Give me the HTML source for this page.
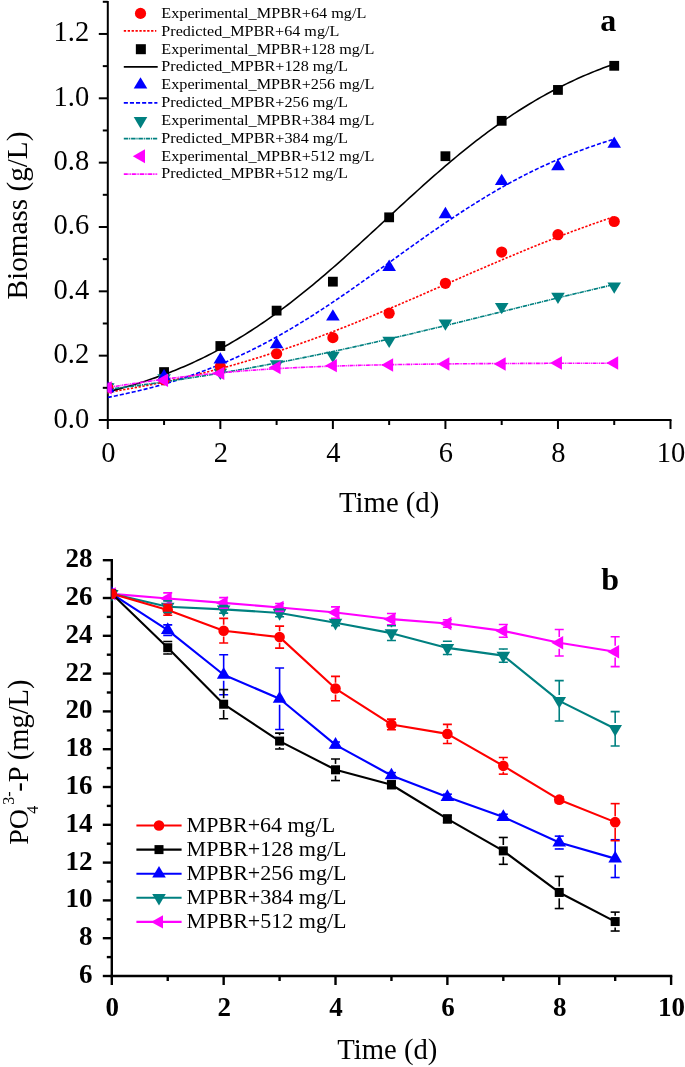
<!DOCTYPE html>
<html><head><meta charset="utf-8"><style>
html,body{margin:0;padding:0;background:#fff;width:685px;height:1067px;overflow:hidden;font-family:"Liberation Serif",serif}
</style></head><body>
<svg width="685" height="1067" viewBox="0 0 685 1067" style="position:absolute;left:0;top:0;will-change:transform">
<defs><clipPath id="ct"><rect x="107.5" y="0" width="600" height="420.0"/></clipPath><clipPath id="cb"><rect x="111.5" y="540" width="600" height="436"/></clipPath></defs>
<rect width="685" height="1067" fill="#fff"/>
<g stroke="#000" stroke-width="2" fill="none">
<line x1="107.8" y1="1" x2="107.8" y2="421.0"/>
<line x1="106.8" y1="420.0" x2="671.5" y2="420.0"/>
<line x1="98.8" y1="420.00" x2="107.8" y2="420.00"/>
<line x1="102.8" y1="387.83" x2="107.8" y2="387.83"/>
<line x1="98.8" y1="355.66" x2="107.8" y2="355.66"/>
<line x1="102.8" y1="323.49" x2="107.8" y2="323.49"/>
<line x1="98.8" y1="291.32" x2="107.8" y2="291.32"/>
<line x1="102.8" y1="259.15" x2="107.8" y2="259.15"/>
<line x1="98.8" y1="226.98" x2="107.8" y2="226.98"/>
<line x1="102.8" y1="194.81" x2="107.8" y2="194.81"/>
<line x1="98.8" y1="162.64" x2="107.8" y2="162.64"/>
<line x1="102.8" y1="130.47" x2="107.8" y2="130.47"/>
<line x1="98.8" y1="98.30" x2="107.8" y2="98.30"/>
<line x1="102.8" y1="66.13" x2="107.8" y2="66.13"/>
<line x1="98.8" y1="33.96" x2="107.8" y2="33.96"/>
<line x1="102.8" y1="1.79" x2="107.8" y2="1.79"/>
<line x1="107.80" y1="420.0" x2="107.80" y2="429.0"/>
<line x1="164.07" y1="420.0" x2="164.07" y2="425.0"/>
<line x1="220.34" y1="420.0" x2="220.34" y2="429.0"/>
<line x1="276.61" y1="420.0" x2="276.61" y2="425.0"/>
<line x1="332.88" y1="420.0" x2="332.88" y2="429.0"/>
<line x1="389.15" y1="420.0" x2="389.15" y2="425.0"/>
<line x1="445.42" y1="420.0" x2="445.42" y2="429.0"/>
<line x1="501.69" y1="420.0" x2="501.69" y2="425.0"/>
<line x1="557.96" y1="420.0" x2="557.96" y2="429.0"/>
<line x1="614.23" y1="420.0" x2="614.23" y2="425.0"/>
<line x1="670.50" y1="420.0" x2="670.50" y2="429.0"/>
</g>
<g clip-path="url(#ct)">
<polyline points="107.80,392.36 110.61,391.90 113.43,391.45 116.24,390.98 119.05,390.51 121.87,390.03 124.68,389.54 127.49,389.05 130.31,388.55 133.12,388.04 135.94,387.53 138.75,387.01 141.56,386.48 144.38,385.94 147.19,385.40 150.00,384.85 152.82,384.29 155.63,383.73 158.44,383.16 161.26,382.58 164.07,381.99 166.88,381.39 169.70,380.79 172.51,380.18 175.32,379.56 178.14,378.93 180.95,378.30 183.76,377.65 186.58,377.00 189.39,376.34 192.20,375.68 195.02,375.00 197.83,374.32 200.65,373.63 203.46,372.93 206.27,372.22 209.09,371.50 211.90,370.77 214.71,370.04 217.53,369.30 220.34,368.55 223.15,367.79 225.97,367.02 228.78,366.24 231.59,365.46 234.41,364.66 237.22,363.86 240.03,363.05 242.85,362.23 245.66,361.40 248.48,360.57 251.29,359.72 254.10,358.87 256.92,358.01 259.73,357.14 262.54,356.26 265.36,355.37 268.17,354.47 270.98,353.57 273.80,352.66 276.61,351.73 279.42,350.80 282.24,349.87 285.05,348.92 287.86,347.96 290.68,347.00 293.49,346.03 296.30,345.05 299.12,344.06 301.93,343.07 304.75,342.07 307.56,341.05 310.37,340.04 313.19,339.01 316.00,337.98 318.81,336.93 321.63,335.89 324.44,334.83 327.25,333.77 330.07,332.70 332.88,331.62 335.69,330.53 338.51,329.44 341.32,328.35 344.13,327.24 346.95,326.13 349.76,325.01 352.57,323.89 355.39,322.76 358.20,321.63 361.01,320.49 363.83,319.34 366.64,318.19 369.46,317.03 372.27,315.87 375.08,314.70 377.90,313.53 380.71,312.35 383.52,311.17 386.34,309.99 389.15,308.80 391.96,307.60 394.78,306.41 397.59,305.20 400.40,304.00 403.22,302.79 406.03,301.58 408.84,300.37 411.66,299.15 414.47,297.93 417.29,296.71 420.10,295.49 422.91,294.26 425.73,293.03 428.54,291.80 431.35,290.57 434.17,289.34 436.98,288.11 439.79,286.88 442.61,285.64 445.42,284.41 448.23,283.18 451.05,281.94 453.86,280.71 456.67,279.48 459.49,278.24 462.30,277.01 465.11,275.78 467.93,274.55 470.74,273.32 473.56,272.10 476.37,270.87 479.18,269.65 482.00,268.43 484.81,267.21 487.62,266.00 490.44,264.79 493.25,263.58 496.06,262.37 498.88,261.17 501.69,259.97 504.50,258.77 507.32,257.58 510.13,256.39 512.94,255.21 515.76,254.03 518.57,252.86 521.38,251.69 524.20,250.52 527.01,249.37 529.83,248.21 532.64,247.06 535.45,245.92 538.27,244.78 541.08,243.65 543.89,242.53 546.71,241.41 549.52,240.29 552.33,239.19 555.15,238.08 557.96,236.99 560.77,235.90 563.59,234.82 566.40,233.75 569.21,232.68 572.03,231.62 574.84,230.57 577.65,229.53 580.47,228.49 583.28,227.46 586.10,226.44 588.91,225.43 591.72,224.42 594.54,223.42 597.35,222.43 600.16,221.45 602.98,220.47 605.79,219.51 608.60,218.55 611.42,217.60 614.23,216.66" fill="none" stroke="#ff0000" stroke-width="1.6" stroke-dasharray="2.3,1.6"/>
<polyline points="107.80,391.75 110.61,391.06 113.43,390.35 116.24,389.62 119.05,388.88 121.87,388.12 124.68,387.35 127.49,386.55 130.31,385.74 133.12,384.91 135.94,384.07 138.75,383.20 141.56,382.32 144.38,381.42 147.19,380.50 150.00,379.56 152.82,378.60 155.63,377.62 158.44,376.61 161.26,375.59 164.07,374.55 166.88,373.49 169.70,372.40 172.51,371.29 175.32,370.16 178.14,369.01 180.95,367.84 183.76,366.64 186.58,365.42 189.39,364.18 192.20,362.91 195.02,361.62 197.83,360.30 200.65,358.96 203.46,357.60 206.27,356.21 209.09,354.79 211.90,353.35 214.71,351.89 217.53,350.40 220.34,348.88 223.15,347.34 225.97,345.78 228.78,344.18 231.59,342.56 234.41,340.92 237.22,339.25 240.03,337.55 242.85,335.83 245.66,334.08 248.48,332.30 251.29,330.50 254.10,328.67 256.92,326.82 259.73,324.94 262.54,323.03 265.36,321.10 268.17,319.14 270.98,317.16 273.80,315.15 276.61,313.12 279.42,311.06 282.24,308.98 285.05,306.87 287.86,304.74 290.68,302.59 293.49,300.41 296.30,298.21 299.12,295.99 301.93,293.74 304.75,291.48 307.56,289.19 310.37,286.88 313.19,284.55 316.00,282.21 318.81,279.84 321.63,277.45 324.44,275.05 327.25,272.63 330.07,270.20 332.88,267.74 335.69,265.28 338.51,262.80 341.32,260.30 344.13,257.79 346.95,255.27 349.76,252.74 352.57,250.20 355.39,247.65 358.20,245.08 361.01,242.52 363.83,239.94 366.64,237.36 369.46,234.77 372.27,232.18 375.08,229.58 377.90,226.98 380.71,224.38 383.52,221.77 386.34,219.17 389.15,216.57 391.96,213.97 394.78,211.37 397.59,208.77 400.40,206.18 403.22,203.59 406.03,201.01 408.84,198.44 411.66,195.88 414.47,193.32 417.29,190.77 420.10,188.23 422.91,185.70 425.73,183.19 428.54,180.69 431.35,178.20 434.17,175.72 436.98,173.26 439.79,170.81 442.61,168.38 445.42,165.97 448.23,163.58 451.05,161.20 453.86,158.84 456.67,156.50 459.49,154.18 462.30,151.88 465.11,149.60 467.93,147.34 470.74,145.11 473.56,142.90 476.37,140.70 479.18,138.54 482.00,136.39 484.81,134.27 487.62,132.17 490.44,130.10 493.25,128.05 496.06,126.03 498.88,124.03 501.69,122.06 504.50,120.11 507.32,118.19 510.13,116.30 512.94,114.43 515.76,112.58 518.57,110.77 521.38,108.98 524.20,107.21 527.01,105.47 529.83,103.76 532.64,102.07 535.45,100.41 538.27,98.78 541.08,97.17 543.89,95.59 546.71,94.03 549.52,92.50 552.33,90.99 555.15,89.52 557.96,88.06 560.77,86.63 563.59,85.23 566.40,83.85 569.21,82.49 572.03,81.17 574.84,79.86 577.65,78.58 580.47,77.32 583.28,76.09 586.10,74.87 588.91,73.69 591.72,72.52 594.54,71.38 597.35,70.26 600.16,69.16 602.98,68.08 605.79,67.03 608.60,65.99 611.42,64.98 614.23,63.99" fill="none" stroke="#000000" stroke-width="1.6"/>
<polyline points="107.80,397.38 110.61,396.84 113.43,396.29 116.24,395.72 119.05,395.15 121.87,394.56 124.68,393.95 127.49,393.34 130.31,392.71 133.12,392.06 135.94,391.41 138.75,390.74 141.56,390.05 144.38,389.35 147.19,388.64 150.00,387.91 152.82,387.17 155.63,386.41 158.44,385.64 161.26,384.85 164.07,384.04 166.88,383.22 169.70,382.38 172.51,381.53 175.32,380.66 178.14,379.77 180.95,378.87 183.76,377.95 186.58,377.01 189.39,376.05 192.20,375.07 195.02,374.08 197.83,373.07 200.65,372.04 203.46,370.99 206.27,369.93 209.09,368.84 211.90,367.74 214.71,366.62 217.53,365.47 220.34,364.31 223.15,363.13 225.97,361.93 228.78,360.71 231.59,359.47 234.41,358.21 237.22,356.93 240.03,355.63 242.85,354.31 245.66,352.98 248.48,351.62 251.29,350.24 254.10,348.84 256.92,347.42 259.73,345.98 262.54,344.53 265.36,343.05 268.17,341.55 270.98,340.03 273.80,338.50 276.61,336.94 279.42,335.37 282.24,333.78 285.05,332.16 287.86,330.53 290.68,328.89 293.49,327.22 296.30,325.53 299.12,323.83 301.93,322.11 304.75,320.38 307.56,318.62 310.37,316.85 313.19,315.07 316.00,313.27 318.81,311.45 321.63,309.62 324.44,307.78 327.25,305.92 330.07,304.05 332.88,302.16 335.69,300.26 338.51,298.35 341.32,296.43 344.13,294.50 346.95,292.56 349.76,290.61 352.57,288.64 355.39,286.67 358.20,284.69 361.01,282.71 363.83,280.72 366.64,278.72 369.46,276.71 372.27,274.70 375.08,272.69 377.90,270.67 380.71,268.65 383.52,266.62 386.34,264.59 389.15,262.57 391.96,260.54 394.78,258.51 397.59,256.48 400.40,254.46 403.22,252.44 406.03,250.42 408.84,248.40 411.66,246.38 414.47,244.38 417.29,242.37 420.10,240.38 422.91,238.39 425.73,236.40 428.54,234.43 431.35,232.46 434.17,230.50 436.98,228.55 439.79,226.61 442.61,224.68 445.42,222.77 448.23,220.86 451.05,218.97 453.86,217.09 456.67,215.22 459.49,213.37 462.30,211.53 465.11,209.70 467.93,207.89 470.74,206.10 473.56,204.32 476.37,202.55 479.18,200.81 482.00,199.08 484.81,197.36 487.62,195.67 490.44,193.99 493.25,192.33 496.06,190.69 498.88,189.06 501.69,187.46 504.50,185.87 507.32,184.31 510.13,182.76 512.94,181.23 515.76,179.72 518.57,178.23 521.38,176.76 524.20,175.31 527.01,173.88 529.83,172.47 532.64,171.08 535.45,169.70 538.27,168.35 541.08,167.02 543.89,165.71 546.71,164.42 549.52,163.15 552.33,161.89 555.15,160.66 557.96,159.45 560.77,158.26 563.59,157.08 566.40,155.93 569.21,154.79 572.03,153.68 574.84,152.58 577.65,151.50 580.47,150.44 583.28,149.40 586.10,148.38 588.91,147.37 591.72,146.39 594.54,145.42 597.35,144.47 600.16,143.54 602.98,142.62 605.79,141.72 608.60,140.84 611.42,139.98 614.23,139.13" fill="none" stroke="#0000ff" stroke-width="1.6" stroke-dasharray="4.1,2"/>
<polyline points="107.80,389.28 110.61,388.94 113.43,388.59 116.24,388.24 119.05,387.89 121.87,387.54 124.68,387.18 127.49,386.82 130.31,386.46 133.12,386.10 135.94,385.73 138.75,385.35 141.56,384.98 144.38,384.60 147.19,384.22 150.00,383.83 152.82,383.44 155.63,383.05 158.44,382.65 161.26,382.25 164.07,381.85 166.88,381.44 169.70,381.03 172.51,380.62 175.32,380.21 178.14,379.79 180.95,379.36 183.76,378.94 186.58,378.51 189.39,378.07 192.20,377.64 195.02,377.20 197.83,376.75 200.65,376.31 203.46,375.86 206.27,375.40 209.09,374.95 211.90,374.49 214.71,374.02 217.53,373.55 220.34,373.08 223.15,372.61 225.97,372.13 228.78,371.65 231.59,371.16 234.41,370.68 237.22,370.18 240.03,369.69 242.85,369.19 245.66,368.69 248.48,368.18 251.29,367.68 254.10,367.16 256.92,366.65 259.73,366.13 262.54,365.61 265.36,365.08 268.17,364.55 270.98,364.02 273.80,363.48 276.61,362.95 279.42,362.40 282.24,361.86 285.05,361.31 287.86,360.76 290.68,360.20 293.49,359.65 296.30,359.08 299.12,358.52 301.93,357.95 304.75,357.38 307.56,356.81 310.37,356.23 313.19,355.65 316.00,355.07 318.81,354.48 321.63,353.89 324.44,353.30 327.25,352.70 330.07,352.11 332.88,351.51 335.69,350.90 338.51,350.30 341.32,349.69 344.13,349.07 346.95,348.46 349.76,347.84 352.57,347.22 355.39,346.60 358.20,345.98 361.01,345.35 363.83,344.72 366.64,344.08 369.46,343.45 372.27,342.81 375.08,342.17 377.90,341.53 380.71,340.89 383.52,340.24 386.34,339.59 389.15,338.94 391.96,338.29 394.78,337.63 397.59,336.97 400.40,336.32 403.22,335.65 406.03,334.99 408.84,334.33 411.66,333.66 414.47,332.99 417.29,332.32 420.10,331.65 422.91,330.98 425.73,330.30 428.54,329.63 431.35,328.95 434.17,328.27 436.98,327.59 439.79,326.91 442.61,326.23 445.42,325.54 448.23,324.86 451.05,324.17 453.86,323.48 456.67,322.80 459.49,322.11 462.30,321.42 465.11,320.73 467.93,320.04 470.74,319.34 473.56,318.65 476.37,317.96 479.18,317.26 482.00,316.57 484.81,315.88 487.62,315.18 490.44,314.49 493.25,313.79 496.06,313.10 498.88,312.40 501.69,311.70 504.50,311.01 507.32,310.31 510.13,309.62 512.94,308.92 515.76,308.23 518.57,307.53 521.38,306.84 524.20,306.15 527.01,305.45 529.83,304.76 532.64,304.07 535.45,303.38 538.27,302.68 541.08,301.99 543.89,301.30 546.71,300.62 549.52,299.93 552.33,299.24 555.15,298.56 557.96,297.87 560.77,297.19 563.59,296.51 566.40,295.83 569.21,295.15 572.03,294.47 574.84,293.79 577.65,293.12 580.47,292.44 583.28,291.77 586.10,291.10 588.91,290.43 591.72,289.76 594.54,289.10 597.35,288.43 600.16,287.77 602.98,287.11 605.79,286.45 608.60,285.80 611.42,285.14 614.23,284.49" fill="none" stroke="#008080" stroke-width="1.6" stroke-dasharray="4.5,0.8,1.2,0.8"/>
<polyline points="107.80,387.57 110.61,387.12 113.43,386.67 116.24,386.23 119.05,385.78 121.87,385.34 124.68,384.91 127.49,384.48 130.31,384.05 133.12,383.62 135.94,383.20 138.75,382.78 141.56,382.37 144.38,381.96 147.19,381.55 150.00,381.15 152.82,380.76 155.63,380.36 158.44,379.98 161.26,379.60 164.07,379.22 166.88,378.85 169.70,378.48 172.51,378.12 175.32,377.77 178.14,377.42 180.95,377.08 183.76,376.74 186.58,376.41 189.39,376.08 192.20,375.76 195.02,375.44 197.83,375.13 200.65,374.83 203.46,374.53 206.27,374.24 209.09,373.95 211.90,373.67 214.71,373.39 217.53,373.12 220.34,372.86 223.15,372.60 225.97,372.34 228.78,372.10 231.59,371.85 234.41,371.61 237.22,371.38 240.03,371.16 242.85,370.93 245.66,370.72 248.48,370.51 251.29,370.30 254.10,370.10 256.92,369.90 259.73,369.71 262.54,369.52 265.36,369.34 268.17,369.16 270.98,368.99 273.80,368.82 276.61,368.65 279.42,368.49 282.24,368.33 285.05,368.18 287.86,368.03 290.68,367.89 293.49,367.75 296.30,367.61 299.12,367.47 301.93,367.34 304.75,367.22 307.56,367.09 310.37,366.98 313.19,366.86 316.00,366.75 318.81,366.64 321.63,366.53 324.44,366.42 327.25,366.32 330.07,366.22 332.88,366.13 335.69,366.04 338.51,365.95 341.32,365.86 344.13,365.77 346.95,365.69 349.76,365.61 352.57,365.53 355.39,365.46 358.20,365.38 361.01,365.31 363.83,365.24 366.64,365.18 369.46,365.11 372.27,365.05 375.08,364.99 377.90,364.93 380.71,364.87 383.52,364.81 386.34,364.76 389.15,364.70 391.96,364.65 394.78,364.60 397.59,364.56 400.40,364.51 403.22,364.46 406.03,364.42 408.84,364.38 411.66,364.33 414.47,364.29 417.29,364.26 420.10,364.22 422.91,364.18 425.73,364.15 428.54,364.11 431.35,364.08 434.17,364.05 436.98,364.01 439.79,363.98 442.61,363.95 445.42,363.93 448.23,363.90 451.05,363.87 453.86,363.85 456.67,363.82 459.49,363.80 462.30,363.77 465.11,363.75 467.93,363.73 470.74,363.71 473.56,363.68 476.37,363.66 479.18,363.65 482.00,363.63 484.81,363.61 487.62,363.59 490.44,363.57 493.25,363.56 496.06,363.54 498.88,363.52 501.69,363.51 504.50,363.49 507.32,363.48 510.13,363.47 512.94,363.45 515.76,363.44 518.57,363.43 521.38,363.42 524.20,363.40 527.01,363.39 529.83,363.38 532.64,363.37 535.45,363.36 538.27,363.35 541.08,363.34 543.89,363.33 546.71,363.32 549.52,363.31 552.33,363.30 555.15,363.30 557.96,363.29 560.77,363.28 563.59,363.27 566.40,363.26 569.21,363.26 572.03,363.25 574.84,363.24 577.65,363.24 580.47,363.23 583.28,363.23 586.10,363.22 588.91,363.21 591.72,363.21 594.54,363.20 597.35,363.20 600.16,363.19 602.98,363.19 605.79,363.18 608.60,363.18 611.42,363.17 614.23,363.17" fill="none" stroke="#ff00ff" stroke-width="1.6" stroke-dasharray="4,0.7,1,0.7,1,0.7"/>
<rect x="102.90" y="382.93" width="9.80" height="9.80" fill="#000000"/>
<rect x="159.17" y="367.17" width="9.80" height="9.80" fill="#000000"/>
<rect x="215.44" y="341.11" width="9.80" height="9.80" fill="#000000"/>
<rect x="271.71" y="305.72" width="9.80" height="9.80" fill="#000000"/>
<rect x="327.98" y="276.77" width="9.80" height="9.80" fill="#000000"/>
<rect x="384.25" y="212.43" width="9.80" height="9.80" fill="#000000"/>
<rect x="440.52" y="151.31" width="9.80" height="9.80" fill="#000000"/>
<rect x="496.79" y="115.92" width="9.80" height="9.80" fill="#000000"/>
<rect x="553.06" y="85.04" width="9.80" height="9.80" fill="#000000"/>
<rect x="609.33" y="60.91" width="9.80" height="9.80" fill="#000000"/>
<polygon points="107.80,394.45 114.60,383.15 101.00,383.15" fill="#008080"/>
<polygon points="164.07,385.44 170.87,374.14 157.27,374.14" fill="#008080"/>
<polygon points="220.34,379.97 227.14,368.67 213.54,368.67" fill="#008080"/>
<polygon points="276.61,371.44 283.41,360.14 269.81,360.14" fill="#008080"/>
<polygon points="332.88,363.02 339.68,351.72 326.08,351.72" fill="#008080"/>
<polygon points="389.15,348.12 395.95,336.82 382.35,336.82" fill="#008080"/>
<polygon points="445.42,330.75 452.22,319.45 438.62,319.45" fill="#008080"/>
<polygon points="501.69,314.34 508.49,303.04 494.89,303.04" fill="#008080"/>
<polygon points="557.96,304.05 564.76,292.75 551.16,292.75" fill="#008080"/>
<polygon points="614.23,293.75 621.03,282.45 607.43,282.45" fill="#008080"/>
<circle cx="107.80" cy="387.83" r="5.60" fill="#ff0000"/>
<circle cx="164.07" cy="379.79" r="5.60" fill="#ff0000"/>
<circle cx="220.34" cy="366.60" r="5.60" fill="#ff0000"/>
<circle cx="276.61" cy="353.73" r="5.60" fill="#ff0000"/>
<circle cx="332.88" cy="337.64" r="5.60" fill="#ff0000"/>
<circle cx="389.15" cy="313.20" r="5.60" fill="#ff0000"/>
<circle cx="445.42" cy="283.28" r="5.60" fill="#ff0000"/>
<circle cx="501.69" cy="252.07" r="5.60" fill="#ff0000"/>
<circle cx="557.96" cy="234.70" r="5.60" fill="#ff0000"/>
<circle cx="614.23" cy="221.51" r="5.60" fill="#ff0000"/>
<polygon points="107.80,381.02 114.60,392.32 101.00,392.32" fill="#0000ff"/>
<polygon points="164.07,368.99 170.87,380.29 157.27,380.29" fill="#0000ff"/>
<polygon points="220.34,352.26 227.14,363.56 213.54,363.56" fill="#0000ff"/>
<polygon points="276.61,336.98 283.41,348.28 269.81,348.28" fill="#0000ff"/>
<polygon points="332.88,309.15 339.68,320.45 326.08,320.45" fill="#0000ff"/>
<polygon points="389.15,259.61 395.95,270.91 382.35,270.91" fill="#0000ff"/>
<polygon points="445.42,206.85 452.22,218.15 438.62,218.15" fill="#0000ff"/>
<polygon points="501.69,173.72 508.49,185.02 494.89,185.02" fill="#0000ff"/>
<polygon points="557.96,158.92 564.76,170.22 551.16,170.22" fill="#0000ff"/>
<polygon points="614.23,136.40 621.03,147.70 607.43,147.70" fill="#0000ff"/>
<polygon points="99.87,387.83 111.77,381.13 111.77,394.53" fill="#ff00ff"/>
<polygon points="156.14,380.24 168.04,373.54 168.04,386.94" fill="#ff00ff"/>
<polygon points="212.41,373.35 224.31,366.65 224.31,380.05" fill="#ff00ff"/>
<polygon points="268.68,367.56 280.58,360.86 280.58,374.26" fill="#ff00ff"/>
<polygon points="324.95,365.63 336.85,358.93 336.85,372.33" fill="#ff00ff"/>
<polygon points="381.22,364.99 393.12,358.29 393.12,371.69" fill="#ff00ff"/>
<polygon points="437.49,364.02 449.39,357.32 449.39,370.72" fill="#ff00ff"/>
<polygon points="493.76,364.02 505.66,357.32 505.66,370.72" fill="#ff00ff"/>
<polygon points="550.03,363.06 561.93,356.36 561.93,369.76" fill="#ff00ff"/>
<polygon points="606.30,363.06 618.20,356.36 618.20,369.76" fill="#ff00ff"/>
</g>
<g font-family='"Liberation Serif", serif' font-size="28.5" fill="#000">
<text x="89.2" y="427.50" text-anchor="end">0.0</text>
<text x="89.2" y="363.16" text-anchor="end">0.2</text>
<text x="89.2" y="298.82" text-anchor="end">0.4</text>
<text x="89.2" y="234.48" text-anchor="end">0.6</text>
<text x="89.2" y="170.14" text-anchor="end">0.8</text>
<text x="89.2" y="105.80" text-anchor="end">1.0</text>
<text x="89.2" y="41.46" text-anchor="end">1.2</text>
<text x="108.30" y="462.3" text-anchor="middle">0</text>
<text x="220.84" y="462.3" text-anchor="middle">2</text>
<text x="333.38" y="462.3" text-anchor="middle">4</text>
<text x="445.92" y="462.3" text-anchor="middle">6</text>
<text x="558.46" y="462.3" text-anchor="middle">8</text>
<text x="671.00" y="462.3" text-anchor="middle">10</text>
</g>
<text x="389.2" y="512" text-anchor="middle" font-family='"Liberation Serif", serif' font-size="28.7">Time (d)</text>
<text transform="translate(27.2,299.4) rotate(-90)" font-family='"Liberation Serif", serif' font-size="29.6" textLength="167.8" lengthAdjust="spacingAndGlyphs">Biomass (g/L)</text>
<text x="600.3" y="30.8" font-family='"Liberation Serif", serif' font-weight="bold" font-size="32">a</text>
<text x="161.3" y="18.00" font-family='"Liberation Serif", serif' font-size="15" textLength="205" lengthAdjust="spacingAndGlyphs">Experimental_MPBR+64 mg/L</text>
<circle cx="140.50" cy="13.40" r="5.60" fill="#ff0000"/>
<text x="161.3" y="35.82" font-family='"Liberation Serif", serif' font-size="15" textLength="178" lengthAdjust="spacingAndGlyphs">Predicted_MPBR+64 mg/L</text>
<line x1="123.8" y1="30.90" x2="156.3" y2="30.90" stroke="#ff0000" stroke-width="1.8" stroke-dasharray="2.3,1.6"/>
<text x="161.3" y="53.64" font-family='"Liberation Serif", serif' font-size="15" textLength="213" lengthAdjust="spacingAndGlyphs">Experimental_MPBR+128 mg/L</text>
<rect x="135.85" y="44.20" width="10.00" height="10.00" fill="#000000"/>
<text x="161.3" y="71.46" font-family='"Liberation Serif", serif' font-size="15" textLength="186.5" lengthAdjust="spacingAndGlyphs">Predicted_MPBR+128 mg/L</text>
<line x1="123.8" y1="66.80" x2="157.7" y2="66.80" stroke="#000000" stroke-width="1.8"/>
<text x="161.3" y="89.28" font-family='"Liberation Serif", serif' font-size="15" textLength="213" lengthAdjust="spacingAndGlyphs">Experimental_MPBR+256 mg/L</text>
<polygon points="140.50,77.30 147.30,88.60 133.70,88.60" fill="#0000ff"/>
<text x="161.3" y="107.10" font-family='"Liberation Serif", serif' font-size="15" textLength="186.5" lengthAdjust="spacingAndGlyphs">Predicted_MPBR+256 mg/L</text>
<line x1="123.8" y1="102.80" x2="157.4" y2="102.80" stroke="#0000ff" stroke-width="1.8" stroke-dasharray="4.1,2"/>
<text x="161.3" y="124.92" font-family='"Liberation Serif", serif' font-size="15" textLength="213" lengthAdjust="spacingAndGlyphs">Experimental_MPBR+384 mg/L</text>
<polygon points="140.50,128.40 147.30,117.10 133.70,117.10" fill="#008080"/>
<text x="161.3" y="142.74" font-family='"Liberation Serif", serif' font-size="15" textLength="186.5" lengthAdjust="spacingAndGlyphs">Predicted_MPBR+384 mg/L</text>
<line x1="123.8" y1="138.60" x2="157.2" y2="138.60" stroke="#008080" stroke-width="1.8" stroke-dasharray="4.5,0.8,1.2,0.8"/>
<text x="161.3" y="160.56" font-family='"Liberation Serif", serif' font-size="15" textLength="213" lengthAdjust="spacingAndGlyphs">Experimental_MPBR+512 mg/L</text>
<polygon points="132.80,156.25 145.00,149.20 145.00,163.30" fill="#ff00ff"/>
<text x="161.3" y="178.38" font-family='"Liberation Serif", serif' font-size="15" textLength="186.5" lengthAdjust="spacingAndGlyphs">Predicted_MPBR+512 mg/L</text>
<line x1="123.8" y1="174.10" x2="157.2" y2="174.10" stroke="#ff00ff" stroke-width="1.8" stroke-dasharray="4,0.7,1,0.7,1,0.7"/>
<g stroke="#000" stroke-width="2.4" fill="none">
<line x1="111.8" y1="559.00" x2="111.8" y2="977.2"/>
<line x1="110.6" y1="976.0" x2="672.30" y2="976.0"/>
<line x1="102.8" y1="976.00" x2="111.8" y2="976.00"/>
<line x1="106.8" y1="957.10" x2="111.8" y2="957.10"/>
<line x1="102.8" y1="938.20" x2="111.8" y2="938.20"/>
<line x1="106.8" y1="919.30" x2="111.8" y2="919.30"/>
<line x1="102.8" y1="900.40" x2="111.8" y2="900.40"/>
<line x1="106.8" y1="881.50" x2="111.8" y2="881.50"/>
<line x1="102.8" y1="862.60" x2="111.8" y2="862.60"/>
<line x1="106.8" y1="843.70" x2="111.8" y2="843.70"/>
<line x1="102.8" y1="824.80" x2="111.8" y2="824.80"/>
<line x1="106.8" y1="805.90" x2="111.8" y2="805.90"/>
<line x1="102.8" y1="787.00" x2="111.8" y2="787.00"/>
<line x1="106.8" y1="768.10" x2="111.8" y2="768.10"/>
<line x1="102.8" y1="749.20" x2="111.8" y2="749.20"/>
<line x1="106.8" y1="730.30" x2="111.8" y2="730.30"/>
<line x1="102.8" y1="711.40" x2="111.8" y2="711.40"/>
<line x1="106.8" y1="692.50" x2="111.8" y2="692.50"/>
<line x1="102.8" y1="673.60" x2="111.8" y2="673.60"/>
<line x1="106.8" y1="654.70" x2="111.8" y2="654.70"/>
<line x1="102.8" y1="635.80" x2="111.8" y2="635.80"/>
<line x1="106.8" y1="616.90" x2="111.8" y2="616.90"/>
<line x1="102.8" y1="598.00" x2="111.8" y2="598.00"/>
<line x1="106.8" y1="579.10" x2="111.8" y2="579.10"/>
<line x1="102.8" y1="560.20" x2="111.8" y2="560.20"/>
<line x1="111.80" y1="976.0" x2="111.80" y2="985.0"/>
<line x1="167.73" y1="976.0" x2="167.73" y2="981.0"/>
<line x1="223.66" y1="976.0" x2="223.66" y2="985.0"/>
<line x1="279.59" y1="976.0" x2="279.59" y2="981.0"/>
<line x1="335.52" y1="976.0" x2="335.52" y2="985.0"/>
<line x1="391.45" y1="976.0" x2="391.45" y2="981.0"/>
<line x1="447.38" y1="976.0" x2="447.38" y2="985.0"/>
<line x1="503.31" y1="976.0" x2="503.31" y2="981.0"/>
<line x1="559.24" y1="976.0" x2="559.24" y2="985.0"/>
<line x1="615.17" y1="976.0" x2="615.17" y2="981.0"/>
<line x1="671.10" y1="976.0" x2="671.10" y2="985.0"/>
</g>
<g clip-path="url(#cb)">
<polyline points="111.80,593.84 167.73,598.57 223.66,602.91 279.59,607.45 335.52,612.55 391.45,619.17 447.38,623.52 503.31,630.89 559.24,642.79 615.17,651.68" fill="none" stroke="#ff00ff" stroke-width="2.1" stroke-linejoin="round"/>
<polygon points="103.87,593.84 115.77,587.14 115.77,600.54" fill="#ff00ff"/>
<polygon points="159.80,598.57 171.70,591.87 171.70,605.27" fill="#ff00ff"/>
<polygon points="215.73,602.91 227.63,596.21 227.63,609.61" fill="#ff00ff"/>
<polygon points="271.66,607.45 283.56,600.75 283.56,614.15" fill="#ff00ff"/>
<polygon points="327.59,612.55 339.49,605.85 339.49,619.25" fill="#ff00ff"/>
<polygon points="383.52,619.17 395.42,612.47 395.42,625.87" fill="#ff00ff"/>
<polygon points="439.45,623.52 451.35,616.82 451.35,630.22" fill="#ff00ff"/>
<polygon points="495.38,630.89 507.28,624.19 507.28,637.59" fill="#ff00ff"/>
<polygon points="551.31,642.79 563.21,636.09 563.21,649.49" fill="#ff00ff"/>
<polygon points="607.24,651.68 619.14,644.98 619.14,658.38" fill="#ff00ff"/>
<polyline points="111.80,593.84 167.73,606.69 223.66,609.34 279.59,612.93 335.52,622.76 391.45,633.15 447.38,647.90 503.31,655.64 559.24,700.82 615.17,728.79" fill="none" stroke="#008080" stroke-width="2.1" stroke-linejoin="round"/>
<polygon points="111.80,601.64 118.60,589.94 105.00,589.94" fill="#008080"/>
<polygon points="167.73,614.49 174.53,602.79 160.93,602.79" fill="#008080"/>
<polygon points="223.66,617.14 230.46,605.44 216.86,605.44" fill="#008080"/>
<polygon points="279.59,620.73 286.39,609.03 272.79,609.03" fill="#008080"/>
<polygon points="335.52,630.56 342.32,618.86 328.72,618.86" fill="#008080"/>
<polygon points="391.45,640.95 398.25,629.25 384.65,629.25" fill="#008080"/>
<polygon points="447.38,655.70 454.18,644.00 440.58,644.00" fill="#008080"/>
<polygon points="503.31,663.44 510.11,651.75 496.51,651.75" fill="#008080"/>
<polygon points="559.24,708.62 566.04,696.92 552.44,696.92" fill="#008080"/>
<polygon points="615.17,736.59 621.97,724.89 608.37,724.89" fill="#008080"/>
<polyline points="111.80,593.84 167.73,630.13 223.66,674.73 279.59,698.74 335.52,744.85 391.45,775.47 447.38,797.02 503.31,817.05 559.24,842.57 615.17,858.63" fill="none" stroke="#0000ff" stroke-width="2.1" stroke-linejoin="round"/>
<polygon points="111.80,586.04 118.60,597.74 105.00,597.74" fill="#0000ff"/>
<polygon points="167.73,622.33 174.53,634.03 160.93,634.03" fill="#0000ff"/>
<polygon points="223.66,666.93 230.46,678.63 216.86,678.63" fill="#0000ff"/>
<polygon points="279.59,690.94 286.39,702.64 272.79,702.64" fill="#0000ff"/>
<polygon points="335.52,737.05 342.32,748.75 328.72,748.75" fill="#0000ff"/>
<polygon points="391.45,767.67 398.25,779.37 384.65,779.37" fill="#0000ff"/>
<polygon points="447.38,789.22 454.18,800.92 440.58,800.92" fill="#0000ff"/>
<polygon points="503.31,809.25 510.11,820.95 496.51,820.95" fill="#0000ff"/>
<polygon points="559.24,834.77 566.04,846.47 552.44,846.47" fill="#0000ff"/>
<polygon points="615.17,850.83 621.97,862.53 608.37,862.53" fill="#0000ff"/>
<polyline points="111.80,593.84 167.73,647.71 223.66,704.22 279.59,741.07 335.52,769.80 391.45,784.73 447.38,818.94 503.31,850.88 559.24,892.46 615.17,921.57" fill="none" stroke="#000000" stroke-width="2.1" stroke-linejoin="round"/>
<rect x="107.30" y="589.34" width="9.00" height="9.00" fill="#000000"/>
<rect x="163.23" y="643.21" width="9.00" height="9.00" fill="#000000"/>
<rect x="219.16" y="699.72" width="9.00" height="9.00" fill="#000000"/>
<rect x="275.09" y="736.57" width="9.00" height="9.00" fill="#000000"/>
<rect x="331.02" y="765.30" width="9.00" height="9.00" fill="#000000"/>
<rect x="386.95" y="780.23" width="9.00" height="9.00" fill="#000000"/>
<rect x="442.88" y="814.44" width="9.00" height="9.00" fill="#000000"/>
<rect x="498.81" y="846.38" width="9.00" height="9.00" fill="#000000"/>
<rect x="554.74" y="887.96" width="9.00" height="9.00" fill="#000000"/>
<rect x="610.67" y="917.07" width="9.00" height="9.00" fill="#000000"/>
<polyline points="111.80,593.84 167.73,609.91 223.66,630.70 279.59,637.12 335.52,688.53 391.45,724.44 447.38,733.89 503.31,765.83 559.24,799.66 615.17,822.15" fill="none" stroke="#ff0000" stroke-width="2.1" stroke-linejoin="round"/>
<circle cx="111.80" cy="593.84" r="5.3" fill="#ff0000"/>
<circle cx="167.73" cy="609.91" r="5.3" fill="#ff0000"/>
<circle cx="223.66" cy="630.70" r="5.3" fill="#ff0000"/>
<circle cx="279.59" cy="637.12" r="5.3" fill="#ff0000"/>
<circle cx="335.52" cy="688.53" r="5.3" fill="#ff0000"/>
<circle cx="391.45" cy="724.44" r="5.3" fill="#ff0000"/>
<circle cx="447.38" cy="733.89" r="5.3" fill="#ff0000"/>
<circle cx="503.31" cy="765.83" r="5.3" fill="#ff0000"/>
<circle cx="559.24" cy="799.66" r="5.3" fill="#ff0000"/>
<circle cx="615.17" cy="822.15" r="5.3" fill="#ff0000"/>
<g stroke="#ff00ff" stroke-width="1.6" fill="none"><line x1="163.23" y1="592.90" x2="172.23" y2="592.90"/><line x1="163.23" y1="604.24" x2="172.23" y2="604.24"/><line x1="219.16" y1="597.62" x2="228.16" y2="597.62"/><line x1="219.16" y1="608.21" x2="228.16" y2="608.21"/><line x1="275.09" y1="603.48" x2="284.09" y2="603.48"/><line x1="275.09" y1="611.42" x2="284.09" y2="611.42"/><line x1="331.02" y1="606.88" x2="340.02" y2="606.88"/><line x1="331.02" y1="618.22" x2="340.02" y2="618.22"/><line x1="386.95" y1="613.50" x2="395.95" y2="613.50"/><line x1="386.95" y1="624.84" x2="395.95" y2="624.84"/><line x1="442.88" y1="619.74" x2="451.88" y2="619.74"/><line x1="442.88" y1="627.30" x2="451.88" y2="627.30"/><line x1="503.31" y1="624.46" x2="503.31" y2="624.99"/><line x1="503.31" y1="636.79" x2="503.31" y2="637.31"/><line x1="498.81" y1="624.46" x2="507.81" y2="624.46"/><line x1="498.81" y1="637.31" x2="507.81" y2="637.31"/><line x1="559.24" y1="629.56" x2="559.24" y2="636.89"/><line x1="559.24" y1="648.69" x2="559.24" y2="656.02"/><line x1="554.74" y1="629.56" x2="563.74" y2="629.56"/><line x1="554.74" y1="656.02" x2="563.74" y2="656.02"/><line x1="615.17" y1="636.75" x2="615.17" y2="645.78"/><line x1="615.17" y1="657.58" x2="615.17" y2="666.61"/><line x1="610.67" y1="636.75" x2="619.67" y2="636.75"/><line x1="610.67" y1="666.61" x2="619.67" y2="666.61"/></g>
<g stroke="#008080" stroke-width="1.6" fill="none"><line x1="163.23" y1="600.84" x2="172.23" y2="600.84"/><line x1="163.23" y1="612.55" x2="172.23" y2="612.55"/><line x1="219.16" y1="605.56" x2="228.16" y2="605.56"/><line x1="219.16" y1="613.12" x2="228.16" y2="613.12"/><line x1="275.09" y1="609.15" x2="284.09" y2="609.15"/><line x1="275.09" y1="616.71" x2="284.09" y2="616.71"/><line x1="331.02" y1="619.92" x2="340.02" y2="619.92"/><line x1="331.02" y1="625.59" x2="340.02" y2="625.59"/><line x1="391.45" y1="625.78" x2="391.45" y2="627.25"/><line x1="391.45" y1="639.05" x2="391.45" y2="640.53"/><line x1="386.95" y1="625.78" x2="395.95" y2="625.78"/><line x1="386.95" y1="640.53" x2="395.95" y2="640.53"/><line x1="447.38" y1="641.28" x2="447.38" y2="642.00"/><line x1="447.38" y1="653.80" x2="447.38" y2="654.51"/><line x1="442.88" y1="641.28" x2="451.88" y2="641.28"/><line x1="442.88" y1="654.51" x2="451.88" y2="654.51"/><line x1="503.31" y1="649.03" x2="503.31" y2="649.75"/><line x1="503.31" y1="661.54" x2="503.31" y2="662.26"/><line x1="498.81" y1="649.03" x2="507.81" y2="649.03"/><line x1="498.81" y1="662.26" x2="507.81" y2="662.26"/><line x1="559.24" y1="680.59" x2="559.24" y2="694.92"/><line x1="559.24" y1="706.72" x2="559.24" y2="721.04"/><line x1="554.74" y1="680.59" x2="563.74" y2="680.59"/><line x1="554.74" y1="721.04" x2="563.74" y2="721.04"/><line x1="615.17" y1="711.59" x2="615.17" y2="722.89"/><line x1="615.17" y1="734.69" x2="615.17" y2="745.99"/><line x1="610.67" y1="711.59" x2="619.67" y2="711.59"/><line x1="610.67" y1="745.99" x2="619.67" y2="745.99"/></g>
<g stroke="#0000ff" stroke-width="1.6" fill="none"><line x1="163.23" y1="624.84" x2="172.23" y2="624.84"/><line x1="163.23" y1="635.42" x2="172.23" y2="635.42"/><line x1="223.66" y1="654.70" x2="223.66" y2="668.83"/><line x1="223.66" y1="680.63" x2="223.66" y2="694.77"/><line x1="219.16" y1="654.70" x2="228.16" y2="654.70"/><line x1="219.16" y1="694.77" x2="228.16" y2="694.77"/><line x1="279.59" y1="667.93" x2="279.59" y2="692.84"/><line x1="279.59" y1="704.64" x2="279.59" y2="729.54"/><line x1="275.09" y1="667.93" x2="284.09" y2="667.93"/><line x1="275.09" y1="729.54" x2="284.09" y2="729.54"/><line x1="331.02" y1="742.02" x2="340.02" y2="742.02"/><line x1="331.02" y1="747.69" x2="340.02" y2="747.69"/><line x1="386.95" y1="772.64" x2="395.95" y2="772.64"/><line x1="386.95" y1="778.31" x2="395.95" y2="778.31"/><line x1="442.88" y1="794.18" x2="451.88" y2="794.18"/><line x1="442.88" y1="799.85" x2="451.88" y2="799.85"/><line x1="498.81" y1="814.22" x2="507.81" y2="814.22"/><line x1="498.81" y1="819.89" x2="507.81" y2="819.89"/><line x1="559.24" y1="836.14" x2="559.24" y2="836.67"/><line x1="559.24" y1="848.47" x2="559.24" y2="848.99"/><line x1="554.74" y1="836.14" x2="563.74" y2="836.14"/><line x1="554.74" y1="848.99" x2="563.74" y2="848.99"/><line x1="615.17" y1="839.73" x2="615.17" y2="852.73"/><line x1="615.17" y1="864.53" x2="615.17" y2="877.53"/><line x1="610.67" y1="839.73" x2="619.67" y2="839.73"/><line x1="610.67" y1="877.53" x2="619.67" y2="877.53"/></g>
<g stroke="#000000" stroke-width="1.6" fill="none"><line x1="167.73" y1="641.47" x2="167.73" y2="641.81"/><line x1="167.73" y1="653.61" x2="167.73" y2="653.94"/><line x1="163.23" y1="641.47" x2="172.23" y2="641.47"/><line x1="163.23" y1="653.94" x2="172.23" y2="653.94"/><line x1="223.66" y1="689.66" x2="223.66" y2="698.32"/><line x1="223.66" y1="710.12" x2="223.66" y2="718.77"/><line x1="219.16" y1="689.66" x2="228.16" y2="689.66"/><line x1="219.16" y1="718.77" x2="228.16" y2="718.77"/><line x1="279.59" y1="733.13" x2="279.59" y2="735.17"/><line x1="279.59" y1="746.97" x2="279.59" y2="749.01"/><line x1="275.09" y1="733.13" x2="284.09" y2="733.13"/><line x1="275.09" y1="749.01" x2="284.09" y2="749.01"/><line x1="335.52" y1="759.03" x2="335.52" y2="763.90"/><line x1="335.52" y1="775.70" x2="335.52" y2="780.57"/><line x1="331.02" y1="759.03" x2="340.02" y2="759.03"/><line x1="331.02" y1="780.57" x2="340.02" y2="780.57"/><line x1="386.95" y1="780.95" x2="395.95" y2="780.95"/><line x1="386.95" y1="788.51" x2="395.95" y2="788.51"/><line x1="442.88" y1="815.16" x2="451.88" y2="815.16"/><line x1="442.88" y1="822.72" x2="451.88" y2="822.72"/><line x1="503.31" y1="837.46" x2="503.31" y2="844.98"/><line x1="503.31" y1="856.78" x2="503.31" y2="864.30"/><line x1="498.81" y1="837.46" x2="507.81" y2="837.46"/><line x1="498.81" y1="864.30" x2="507.81" y2="864.30"/><line x1="559.24" y1="876.40" x2="559.24" y2="886.56"/><line x1="559.24" y1="898.36" x2="559.24" y2="908.53"/><line x1="554.74" y1="876.40" x2="563.74" y2="876.40"/><line x1="554.74" y1="908.53" x2="563.74" y2="908.53"/><line x1="615.17" y1="912.12" x2="615.17" y2="915.67"/><line x1="615.17" y1="927.47" x2="615.17" y2="931.02"/><line x1="610.67" y1="912.12" x2="619.67" y2="912.12"/><line x1="610.67" y1="931.02" x2="619.67" y2="931.02"/></g>
<g stroke="#ff0000" stroke-width="1.6" fill="none"><line x1="163.23" y1="604.62" x2="172.23" y2="604.62"/><line x1="163.23" y1="615.20" x2="172.23" y2="615.20"/><line x1="223.66" y1="618.41" x2="223.66" y2="624.80"/><line x1="223.66" y1="636.60" x2="223.66" y2="642.98"/><line x1="219.16" y1="618.41" x2="228.16" y2="618.41"/><line x1="219.16" y1="642.98" x2="228.16" y2="642.98"/><line x1="279.59" y1="626.16" x2="279.59" y2="631.22"/><line x1="279.59" y1="643.02" x2="279.59" y2="648.09"/><line x1="275.09" y1="626.16" x2="284.09" y2="626.16"/><line x1="275.09" y1="648.09" x2="284.09" y2="648.09"/><line x1="335.52" y1="676.34" x2="335.52" y2="682.63"/><line x1="335.52" y1="694.43" x2="335.52" y2="700.72"/><line x1="331.02" y1="676.34" x2="340.02" y2="676.34"/><line x1="331.02" y1="700.72" x2="340.02" y2="700.72"/><line x1="386.95" y1="719.15" x2="395.95" y2="719.15"/><line x1="386.95" y1="729.73" x2="395.95" y2="729.73"/><line x1="447.38" y1="724.35" x2="447.38" y2="727.99"/><line x1="447.38" y1="739.79" x2="447.38" y2="743.44"/><line x1="442.88" y1="724.35" x2="451.88" y2="724.35"/><line x1="442.88" y1="743.44" x2="451.88" y2="743.44"/><line x1="503.31" y1="757.52" x2="503.31" y2="759.93"/><line x1="503.31" y1="771.73" x2="503.31" y2="774.15"/><line x1="498.81" y1="757.52" x2="507.81" y2="757.52"/><line x1="498.81" y1="774.15" x2="507.81" y2="774.15"/><line x1="554.74" y1="796.83" x2="563.74" y2="796.83"/><line x1="554.74" y1="802.50" x2="563.74" y2="802.50"/><line x1="615.17" y1="803.63" x2="615.17" y2="816.25"/><line x1="615.17" y1="828.05" x2="615.17" y2="840.68"/><line x1="610.67" y1="803.63" x2="619.67" y2="803.63"/><line x1="610.67" y1="840.68" x2="619.67" y2="840.68"/></g>
</g>
<g font-family='"Liberation Serif", serif' font-size="27" font-weight="bold" fill="#000">
<text x="92.5" y="983.00" text-anchor="end">6</text>
<text x="92.5" y="945.20" text-anchor="end">8</text>
<text x="92.5" y="907.40" text-anchor="end">10</text>
<text x="92.5" y="869.60" text-anchor="end">12</text>
<text x="92.5" y="831.80" text-anchor="end">14</text>
<text x="92.5" y="794.00" text-anchor="end">16</text>
<text x="92.5" y="756.20" text-anchor="end">18</text>
<text x="92.5" y="718.40" text-anchor="end">20</text>
<text x="92.5" y="680.60" text-anchor="end">22</text>
<text x="92.5" y="642.80" text-anchor="end">24</text>
<text x="92.5" y="605.00" text-anchor="end">26</text>
<text x="92.5" y="567.20" text-anchor="end">28</text>
<text x="112.30" y="1016" text-anchor="middle">0</text>
<text x="224.16" y="1016" text-anchor="middle">2</text>
<text x="336.02" y="1016" text-anchor="middle">4</text>
<text x="447.88" y="1016" text-anchor="middle">6</text>
<text x="559.74" y="1016" text-anchor="middle">8</text>
<text x="671.60" y="1016" text-anchor="middle">10</text>
</g>
<text x="387.3" y="1058.6" text-anchor="middle" font-family='"Liberation Serif", serif' font-size="28.7">Time (d)</text>
<text transform="translate(27.8,844.8) rotate(-90)" font-family='"Liberation Serif", serif' font-size="28">PO<tspan font-size="16" dx="-4.7" dy="10">4</tspan><tspan font-size="16" dx="1.0" dy="-23.9">3-</tspan><tspan dx="-0.3" dy="13.9" font-size="28.5">-P (mg/L)</tspan></text>
<text x="601.3" y="589.8" font-family='"Liberation Serif", serif' font-weight="bold" font-size="32">b</text>
<line x1="136.4" y1="825.50" x2="181.6" y2="825.50" stroke="#ff0000" stroke-width="2.1"/>
<circle cx="159.00" cy="825.50" r="5.3" fill="#ff0000"/>
<text x="186.6" y="831.90" font-family='"Liberation Serif", serif' font-size="20" textLength="148.5" lengthAdjust="spacingAndGlyphs">MPBR+64 mg/L</text>
<line x1="136.4" y1="849.60" x2="181.6" y2="849.60" stroke="#000000" stroke-width="2.1"/>
<rect x="154.50" y="845.10" width="9.00" height="9.00" fill="#000000"/>
<text x="186.6" y="856.00" font-family='"Liberation Serif", serif' font-size="20" textLength="160" lengthAdjust="spacingAndGlyphs">MPBR+128 mg/L</text>
<line x1="136.4" y1="873.70" x2="181.6" y2="873.70" stroke="#0000ff" stroke-width="2.1"/>
<polygon points="159.00,865.90 165.80,877.60 152.20,877.60" fill="#0000ff"/>
<text x="186.6" y="880.10" font-family='"Liberation Serif", serif' font-size="20" textLength="160" lengthAdjust="spacingAndGlyphs">MPBR+256 mg/L</text>
<line x1="136.4" y1="897.80" x2="181.6" y2="897.80" stroke="#008080" stroke-width="2.1"/>
<polygon points="159.00,905.60 165.80,893.90 152.20,893.90" fill="#008080"/>
<text x="186.6" y="904.20" font-family='"Liberation Serif", serif' font-size="20" textLength="160" lengthAdjust="spacingAndGlyphs">MPBR+384 mg/L</text>
<line x1="136.4" y1="921.90" x2="181.6" y2="921.90" stroke="#ff00ff" stroke-width="2.1"/>
<polygon points="151.07,921.90 162.97,915.20 162.97,928.60" fill="#ff00ff"/>
<text x="186.6" y="928.30" font-family='"Liberation Serif", serif' font-size="20" textLength="160" lengthAdjust="spacingAndGlyphs">MPBR+512 mg/L</text>
</svg>
</body></html>
